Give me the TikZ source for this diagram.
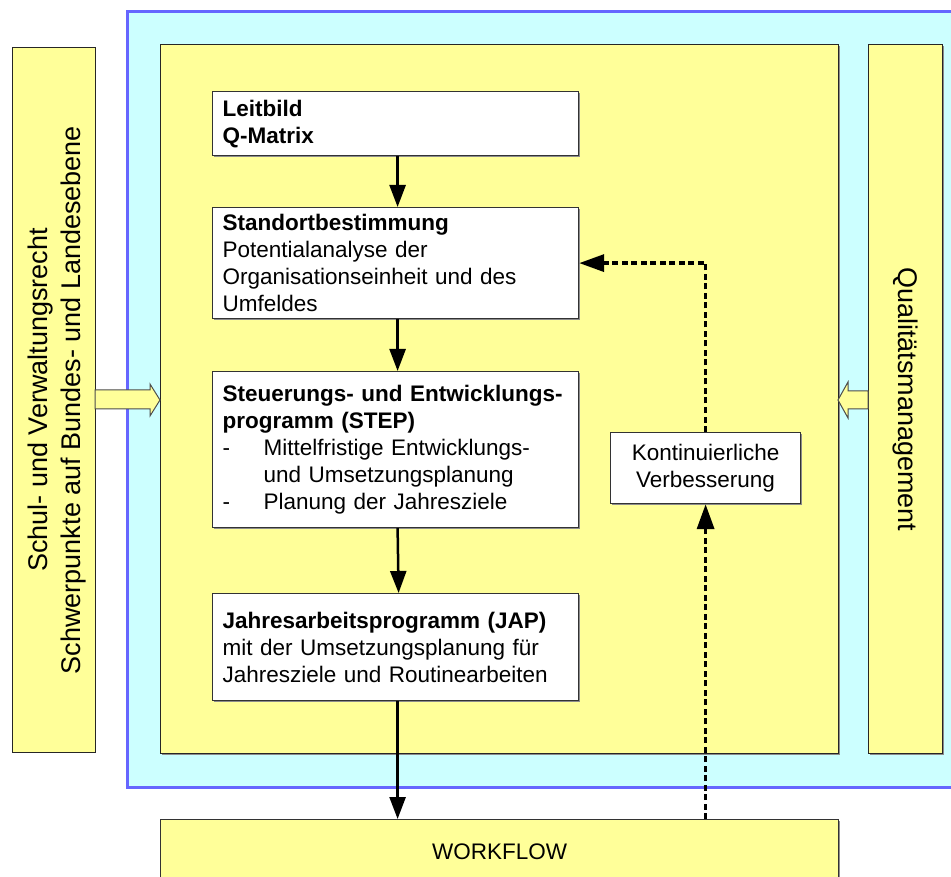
\documentclass[tikz,border=0pt]{standalone}
\usepackage{fontspec}
\setmainfont{Liberation Sans}
\usetikzlibrary{arrows.meta,shadows}

\definecolor{paleyellow}{HTML}{FFFF99}
\definecolor{palecyan}{HTML}{CCFFFF}
\definecolor{frameblue}{HTML}{6666FF}

\newcommand{\boxfont}{\fontsize{22.5}{27}\selectfont}
\newcommand{\sidefont}{\fontsize{27}{33}\selectfont}
\newcommand{\dashitem}[1]{\makebox[41pt][l]{-}#1}
\newcommand{\contitem}[1]{\hspace*{41pt}#1}

\begin{document}
\begin{tikzpicture}[x=1pt,y=-1pt,
  panel/.style={draw=black!85, line width=1.2pt, fill=paleyellow, inner sep=0pt, anchor=north west},
  stepbox/.style={draw=black!80, line width=1.2pt, fill=white, minimum width=366pt,
    text width=346pt, align=left, inner sep=0pt, font=\boxfont, anchor=north west,
    drop shadow={shadow xshift=1.5pt, shadow yshift=-1.5pt, fill=black!45, opacity=1}},
  flow/.style={line width=2.5pt, -{Triangle[length=22pt,width=16pt]}},
  loop/.style={line width=3.5pt, dash pattern=on 6pt off 3.5pt,
    -{Triangle[length=25pt,width=17pt]}},
  blockarrow/.style={draw=black!70, line width=1pt, fill=paleyellow}
]
\useasboundingbox (0,0) rectangle (951,877);
\clip (0,0) rectangle (951,877);

% outer frame
\fill[palecyan] (127,12) rectangle (960,787);
\draw[frameblue, line width=3pt] (960,12) -- (127,12) -- (127,787) -- (960,787);

% side panels and main area
\node[panel, minimum width=83pt, minimum height=705pt] (recht) at (12,47) {};
\node[rotate=90, font=\sidefont, align=center] at ([xshift=3pt]recht.center)
  {Schul- und Verwaltungsrecht\\Schwerpunkte auf Bundes- und Landesebene};
\node[panel, minimum width=678pt, minimum height=709pt,
  drop shadow={shadow xshift=1.5pt, shadow yshift=-1.5pt, fill=black!45, opacity=1}] (main) at (160,44) {};
\node[panel, minimum width=74pt, minimum height=709pt,
  drop shadow={shadow xshift=1.5pt, shadow yshift=-1.5pt, fill=black!45, opacity=1}] (qm) at (868,44) {};
\node[rotate=-90, font=\sidefont] at (qm.center) {Qualitätsmanagement};

% block arrows into the main area
\draw[blockarrow] (95,390) -- (150,390) -- (150,384) -- (160,400) -- (150,416)
  -- (150,409) -- (95,409) -- cycle;
\draw[blockarrow] (868,391) -- (848,391) -- (848,382) -- (838,400) -- (848,418)
  -- (848,409) -- (868,409) -- cycle;

% process steps
\node[stepbox, minimum height=64pt] (leit) at (212,91)
  {\textbf{Leitbild}\\\textbf{Q-Matrix}};
\node[stepbox, minimum height=111pt] (stand) at (212,207)
  {\textbf{Standortbestimmung}\\Potentialanalyse der\\Organisationseinheit und des\\Umfeldes};
\node[stepbox, minimum height=156pt] (step) at (212,371)
  {\textbf{Steuerungs- und Entwicklungs-}\\\textbf{programm (STEP)}\\
   \dashitem{Mittelfristige Entwicklungs-}\\\contitem{und Umsetzungsplanung}\\
   \dashitem{Planung der Jahresziele}};
\node[stepbox, minimum height=107pt] (jap) at (212,593)
  {\textbf{Jahresarbeitsprogramm (JAP)}\\mit der Umsetzungsplanung für\\Jahresziele und Routinearbeiten};
\node[stepbox, minimum width=190pt, text width=180pt, align=center, minimum height=71pt] (kv) at (610,432)
  {Kontinuierliche\\Verbesserung};
\node[stepbox, fill=paleyellow, minimum width=678pt, text width=660pt, align=center,
  minimum height=64pt] (wf) at (160,819) {WORKFLOW};

% main flow
\draw[flow] ([xshift=2pt]leit.south) -- ([xshift=2pt]stand.north);
\draw[flow] ([xshift=2pt]stand.south) -- ([xshift=2pt]step.north);
\draw[flow] ([xshift=2pt]step.south) -- ([xshift=3pt]jap.north);
\draw[flow] ([xshift=2pt]jap.south) -- ([xshift=2pt]jap.south |- wf.north);

% improvement loop
\draw[loop] (kv.south |- wf.north) -- (kv.south);
\draw[loop] (kv.north) |- (stand.east);
\end{tikzpicture}
\end{document}
